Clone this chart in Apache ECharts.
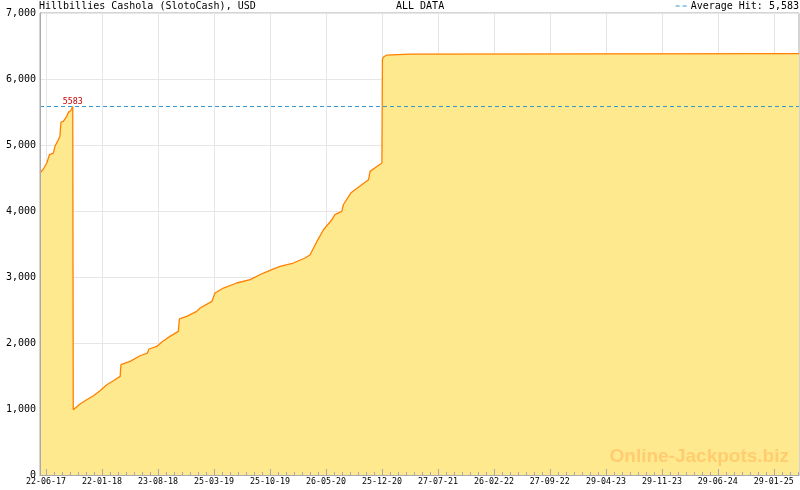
<!DOCTYPE html>
<html><head><meta charset="utf-8">
<script src="https://cdn.jsdelivr.net/npm/echarts@6/dist/echarts.min.js"></script>
<style>html,body{margin:0;padding:0;background:#fff}#c{width:800px;height:490px}</style>
</head><body><div id="c"></div>
<script>
// ---- data ----
const titleText = 'Hillbillies Cashola (SlotoCash), USD';
const periodText = 'ALL DATA';
const watermarkText = 'Online-Jackpots.biz';
const averageHit = 5583;
const averageName = 'Average Hit: 5,583';
const axisStart = '2017-05-30';
const axisEnd = '2025-05-05';
const tickDates = ['2017-06-22','2018-01-22','2018-08-23','2019-03-25','2019-10-25','2020-05-26','2020-12-25',
  '2021-07-27','2022-02-26','2022-09-27','2023-04-29','2023-11-29','2024-06-29','2025-01-29'];
const minorPerMajor = 7;
const jackpotDates = ['2017-05-30','2017-06-12','2017-06-25','2017-07-05','2017-07-20','2017-07-26','2017-08-08',
  '2017-08-14','2017-08-18','2017-08-27','2017-09-09','2017-09-15','2017-09-24','2017-10-02',
  '2017-10-04','2017-10-30','2017-11-24','2017-12-20','2018-01-14','2018-02-09','2018-03-06','2018-04-01',
  '2018-04-04','2018-05-09','2018-06-16','2018-07-14','2018-07-20','2018-08-19','2018-09-07','2018-10-08',
  '2018-11-09','2018-11-13','2018-12-11','2019-01-18','2019-01-31','2019-03-17','2019-03-29','2019-04-30',
  '2019-06-20','2019-08-10','2019-09-30','2019-10-25','2019-12-02','2020-01-22','2020-03-07','2020-03-26',
  '2020-04-08','2020-04-21','2020-05-16','2020-06-17','2020-06-29','2020-07-25','2020-07-31','2020-08-28',
  '2020-10-09','2020-11-04','2020-11-10','2020-12-06','2020-12-25','2020-12-27','2020-12-31','2021-01-13',
  '2021-04-12','2025-05-05'];
const jackpotValues = [4575,4636,4727,4853,4878,4979,5080,5130,5348,5357,5433,5494,5519,5583,
  990,1076,1141,1201,1277,1368,1429,1494,1671,1721,1807,1848,1909,1948,2015,2100,2176,2364,2403,2479,2530,
  2630,2757,2833,2909,2959,3060,3100,3160,3212,3288,3337,3439,3539,3716,3868,3944,3994,4095,4272,4398,4474,
  4600,4675,4727,6299,6333,6363,6378,6385];
const yMin = 0, yMax = 7000, yStep = 1000;

// ---- build ----
const P = s => Date.parse(s);
const xMin = P(axisStart), xMax = P(axisEnd);
const majorTicks = tickDates.map(P);
const minorTicks = [];
for (let i = 0; i < majorTicks.length; i++) {
  const a = majorTicks[i];
  const step = (i + 1 < majorTicks.length ? majorTicks[i + 1] - a : a - majorTicks[i - 1]) / minorPerMajor;
  for (let k = 1; k < minorPerMajor; k++) {
    const v = a + k * step;
    if (v < xMax) minorTicks.push(v);
  }
}
const seriesData = jackpotDates.map((d, i) => [P(d), jackpotValues[i]]);
// jackpot hits: a value followed by a drop
const hitPoints = [];
for (let i = 0; i + 1 < jackpotValues.length; i++) {
  if (jackpotValues[i + 1] < jackpotValues[i]) hitPoints.push({coord: seriesData[i], value: jackpotValues[i]});
}
const pad = n => String(n).padStart(2, '0');
const fmtDate = v => { const d = new Date(v); return pad(d.getUTCDate()) + '-' + pad(d.getUTCMonth() + 1) + '-' + pad(d.getUTCFullYear() % 100); };
const MONO = 'DejaVu Sans Mono';
const AXIS_GREY = '#aaa';

const tickAxis = (vals, len) => ({
  type: 'value', min: xMin, max: xMax, position: 'bottom', z: 10,
  axisLine: {show: true, lineStyle: {color: AXIS_GREY, width: 1}},
  axisTick: {show: true, inside: true, length: len, lineStyle: {color: AXIS_GREY}, customValues: vals},
  axisLabel: {show: false},
  splitLine: {show: false}
});

const chart = echarts.init(document.getElementById('c'), null, {renderer: 'canvas'});
chart.setOption({
  animation: false,
  backgroundColor: '#fff',
  title: [
    {text: titleText, left: 39, top: 1, padding: 0, textStyle: {fontFamily: MONO, fontSize: 10, fontWeight: 'normal', color: '#000'}},
    {text: periodText, left: 396, top: 1, padding: 0, textStyle: {fontFamily: MONO, fontSize: 10, fontWeight: 'normal', color: '#000'}}
  ],
  legend: {
    right: 1, top: 1, padding: 0, itemWidth: 11, itemHeight: 2, itemGap: 4,
    data: [{name: averageName, icon: 'path://M0,0H4V1H0Z M7,0H11V1H7Z', itemStyle: {color: '#3399CC'}}],
    textStyle: {fontFamily: MONO, fontSize: 10, color: '#000', padding: [0, 0, 0, -1]}
  },
  grid: {left: 40, right: 1, top: 13, bottom: 15, show: true, borderColor: AXIS_GREY, borderWidth: 1, backgroundColor: 'transparent'},
  xAxis: [
    {
      type: 'value', min: xMin, max: xMax, position: 'bottom', z: 0,
      axisLine: {show: false},
      axisTick: {show: false, customValues: majorTicks},
      axisLabel: {show: true, customValues: majorTicks, formatter: fmtDate, margin: 3,
        fontFamily: MONO, fontSize: 8.3, color: '#000'},
      splitLine: {show: true, lineStyle: {color: '#e6e6e6', width: 1}}
    },
    tickAxis(majorTicks, 6),
    tickAxis(minorTicks, 3)
  ],
  yAxis: [
    {
      type: 'value', min: yMin, max: yMax, interval: yStep, z: 0,
      axisLine: {show: false},
      axisTick: {show: false},
      axisLabel: {fontFamily: MONO, fontSize: 10, color: '#000', margin: 4},
      splitLine: {show: true, lineStyle: {color: '#e6e6e6', width: 1}}
    },
    {
      type: 'value', min: yMin, max: yMax, interval: yStep, position: 'left', z: 10,
      axisLine: {show: true, lineStyle: {color: AXIS_GREY, width: 1}},
      axisTick: {show: false}, axisLabel: {show: false}, splitLine: {show: false}
    }
  ],
  series: [
    {
      name: 'Jackpot', type: 'line', xAxisIndex: 0, yAxisIndex: 0, data: seriesData,
      symbol: 'none', showSymbol: false, z: 2,
      lineStyle: {color: '#FF8000', width: 1.3},
      areaStyle: {color: '#FFE98F', opacity: 1},
      markPoint: {
        symbol: 'circle', symbolSize: 0, silent: true,
        data: hitPoints,
        label: {show: true, position: 'top', distance: 1, fontFamily: MONO, fontSize: 8.3, color: '#CC0000'}
      }
    },
    {
      name: averageName, type: 'line', xAxisIndex: 0, yAxisIndex: 0, z: 3, silent: true,
      data: [[xMin, averageHit], [xMax, averageHit]],
      symbol: 'none', showSymbol: false, color: '#3399CC',
      lineStyle: {color: '#3399CC', width: 1, type: [4, 3]}
    }
  ],
  graphic: [{
    type: 'text', right: 11, top: 447, z: 10, silent: true,
    style: {text: watermarkText, font: 'bold 19px "Liberation Sans", Arial, sans-serif', fill: '#FFCC70'}
  }]
});
</script></body></html>
